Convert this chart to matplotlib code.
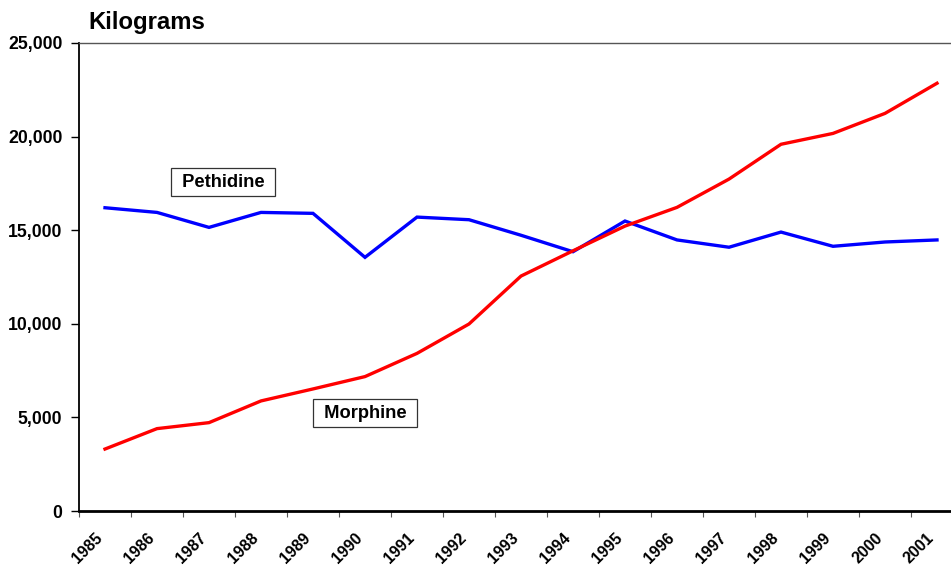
import numpy as np
from matplotlib import pyplot as plt
from matplotlib import transforms

plt.rcParams['font.family'] = ['Liberation Sans', 'DejaVu Sans']

# data (kilograms)
years = [str(y) for y in range(1985, 2002)]
pethidine = [16200, 15950, 15150, 15950, 15900, 13550, 15700, 15560, 14730, 13850,
             15490, 14480, 14090, 14900, 14140, 14370, 14480]
morphine = [3310, 4400, 4720, 5880, 6520, 7180, 8420, 9990, 12550, 13900,
            15220, 16220, 17730, 19590, 20170, 21240, 22850]

fig = plt.figure(figsize=(9.51, 5.72), dpi=100)
ax = fig.add_axes([79 / 951, 1 - 511 / 572, (963 - 79) / 951, (511 - 43) / 572])

x = np.arange(len(years))
ax.plot(x, pethidine, color='#0000ff', lw=2.4, solid_joinstyle='miter')
ax.plot(x, morphine, color='#ff0000', lw=2.4, solid_joinstyle='miter')

# axes limits and ticks
ax.set_xlim(-0.5, len(years) - 0.5)
ax.set_ylim(0, 25000)
ax.set_yticks(np.arange(0, 25001, 5000))
ax.set_yticklabels([f'{v:,}' for v in range(0, 25001, 5000)], fontsize=12.7, fontweight='bold')
ax.tick_params(axis='y', length=6, width=1, pad=6)

ax.set_xticks(x)
ax.set_xticklabels(years, rotation=45, ha='right', va='center', rotation_mode='anchor',
                   fontsize=11.5, fontweight='bold')
ax.tick_params(axis='x', which='major', length=0, pad=18)
shift = transforms.ScaledTranslation(-5 / 100, 0, fig.dpi_scale_trans)
for lbl in ax.get_xticklabels():
    lbl.set_transform(lbl.get_transform() + shift)
ax.set_xticks(np.arange(-0.5, len(years) - 0.5), minor=True)
ax.tick_params(axis='x', which='minor', length=4, width=0.8, color='#555555')

ax.spines['right'].set_visible(False)
ax.spines['top'].set_color('#555555')
ax.spines['top'].set_linewidth(1.0)
ax.spines['left'].set_linewidth(1.3)
ax.spines['bottom'].set_linewidth(2.0)

# series labels in boxes
box = dict(boxstyle='square,pad=0.3', fc='white', ec='#333333', lw=0.9)
ax.text(2.27, 17570, ' Pethidine ', ha='center', va='center', fontsize=13.2,
        fontweight='bold', bbox=box)
ax.text(5.0, 5230, ' Morphine ', ha='center', va='center', fontsize=13.2,
        fontweight='bold', bbox=box)

fig.text(88 / 951, 1 - 22 / 572, 'Kilograms', ha='left', va='center',
         fontsize=17.2, fontweight='bold')

fig.savefig('out.png', dpi=100)
